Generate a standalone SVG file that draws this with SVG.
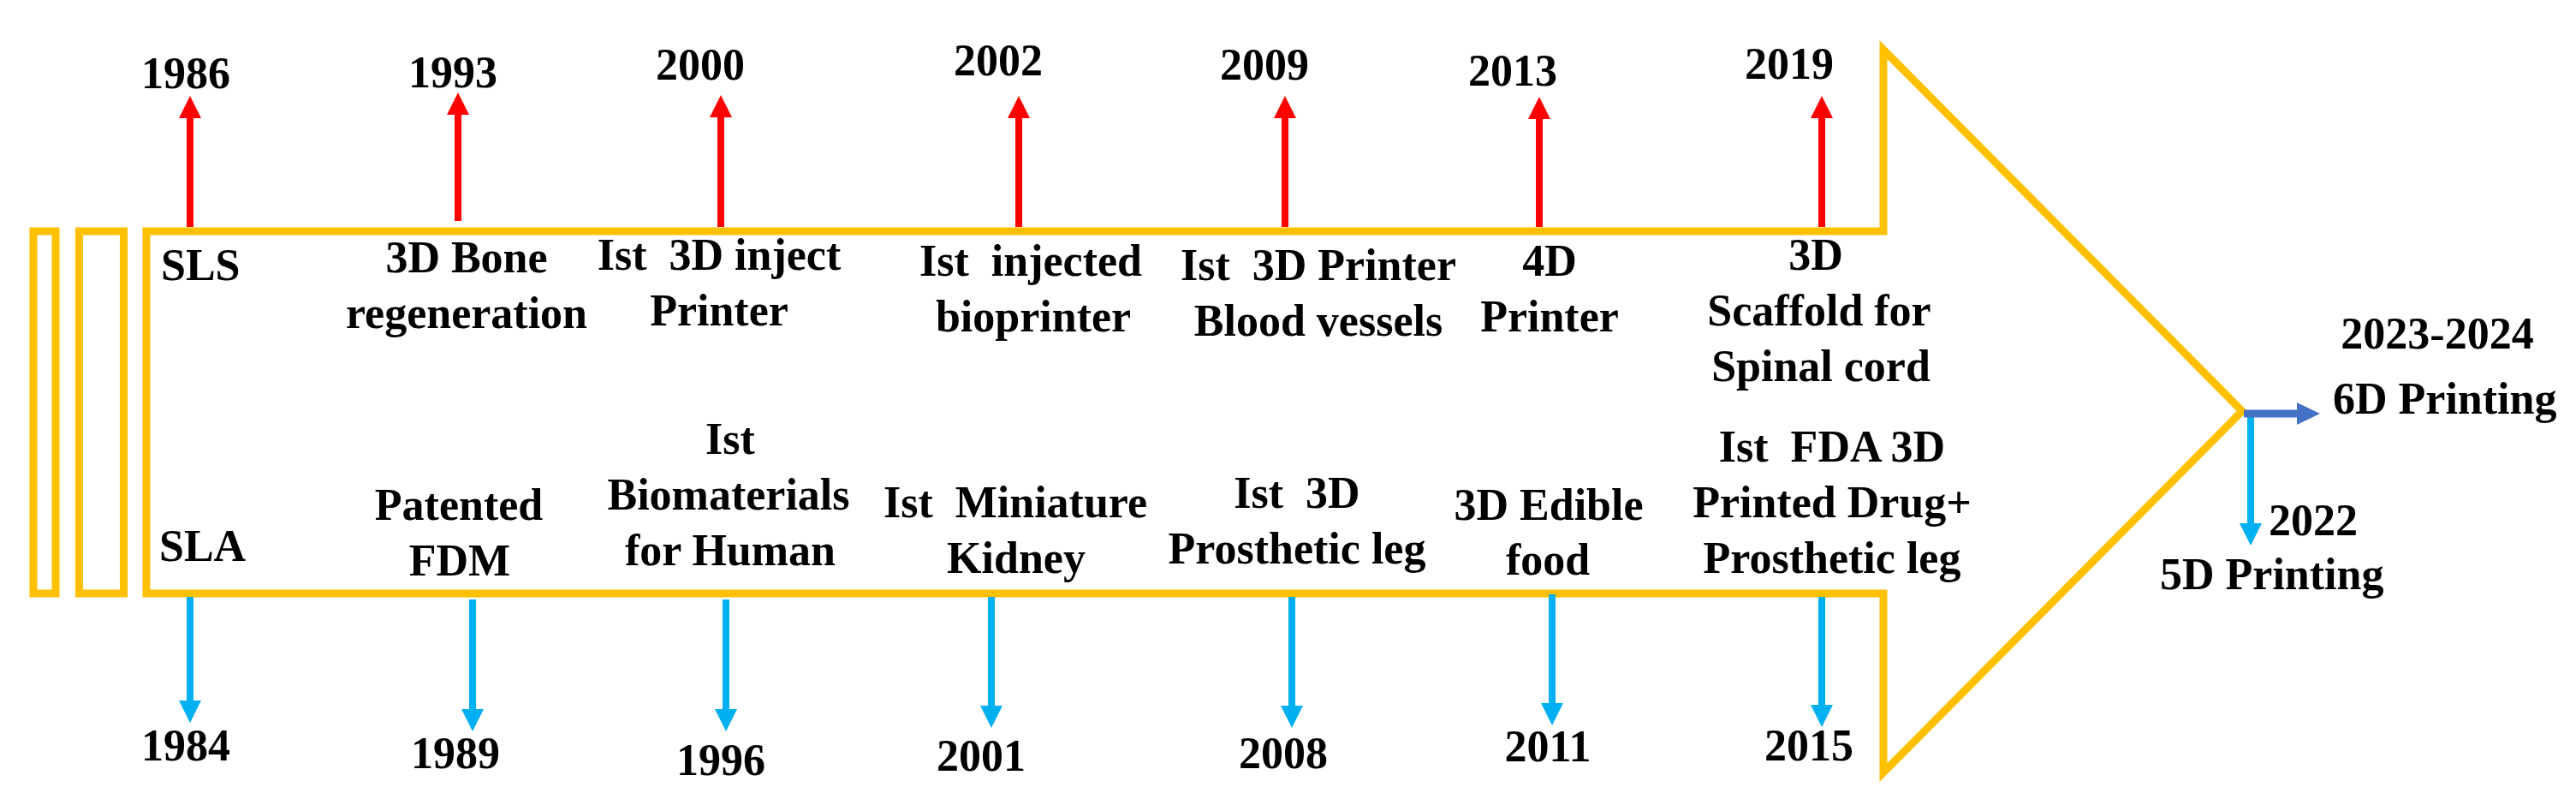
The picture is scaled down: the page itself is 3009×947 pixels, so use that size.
<svg xmlns="http://www.w3.org/2000/svg" width="3009" height="947" viewBox="0 0 3009 947">
<style>
text{font-family:'Liberation Serif','DejaVu Serif',serif;font-weight:700;font-size:52px;fill:#000;white-space:pre}
.m{text-anchor:middle}
.frame{fill:none;stroke:#FFC000;stroke-width:9}
.red{stroke:#FF0000;stroke-width:8;fill:none}
.lb{stroke:#00B0F0;stroke-width:8;fill:none}
.db{stroke:#4472C4;stroke-width:9;fill:none}
</style>
<defs>
<marker id="hr" markerUnits="userSpaceOnUse" markerWidth="26" markerHeight="26" refX="0" refY="13" orient="auto"><path d="M0,0 L26,13 L0,26 Z" fill="#FF0000"/></marker>
<marker id="hb" markerUnits="userSpaceOnUse" markerWidth="26" markerHeight="26" refX="0" refY="13" orient="auto"><path d="M0,0 L26,13 L0,26 Z" fill="#00B0F0"/></marker>
<marker id="hd" markerUnits="userSpaceOnUse" markerWidth="27" markerHeight="26" refX="0" refY="13" orient="auto"><path d="M0,0 L27,13 L0,26 Z" fill="#4472C4"/></marker>
</defs>
<rect width="3009" height="947" fill="#fff"/>
<g id="frame">
<rect class="frame" x="39" y="270" width="26" height="423" stroke-width="8"/>
<rect class="frame" x="92.5" y="270" width="52" height="423" stroke-width="8"/>
<path class="frame" d="M171,693 L171,270 L2200,270 L2200,58 L2619,480 L2200,902 L2200,693 Z"/>
</g>
<g id="connectors">
<line class="red" x1="222" y1="265" x2="222" y2="138" marker-end="url(#hr)"/>
<line class="red" x1="535" y1="258" x2="535" y2="134" marker-end="url(#hr)"/>
<line class="red" x1="842" y1="265" x2="842" y2="137" marker-end="url(#hr)"/>
<line class="red" x1="1190" y1="265" x2="1190" y2="138" marker-end="url(#hr)"/>
<line class="red" x1="1501" y1="265" x2="1501" y2="138" marker-end="url(#hr)"/>
<line class="red" x1="1798" y1="265" x2="1798" y2="139" marker-end="url(#hr)"/>
<line class="red" x1="2128" y1="265" x2="2128" y2="138" marker-end="url(#hr)"/>
<line class="lb" x1="222" y1="697" x2="222" y2="818" marker-end="url(#hb)"/>
<line class="lb" x1="552" y1="700" x2="552" y2="828" marker-end="url(#hb)"/>
<line class="lb" x1="848" y1="700" x2="848" y2="828" marker-end="url(#hb)"/>
<line class="lb" x1="1158" y1="697" x2="1158" y2="824" marker-end="url(#hb)"/>
<line class="lb" x1="1509" y1="697" x2="1509" y2="824" marker-end="url(#hb)"/>
<line class="lb" x1="1813" y1="694" x2="1813" y2="821" marker-end="url(#hb)"/>
<line class="lb" x1="2128" y1="697" x2="2128" y2="823" marker-end="url(#hb)"/>
<line class="lb" x1="2629" y1="479" x2="2629" y2="611" marker-end="url(#hb)"/>
<line class="db" x1="2621" y1="483" x2="2683" y2="483" marker-end="url(#hd)"/>
</g>
<g id="n1986"><text class="m" x="217" y="103">1986</text><text x="188" y="327">SLS</text></g>
<g id="n1993"><text class="m" x="529" y="102">1993</text><text class="m" x="545" y="318">3D Bone</text><text class="m" x="545" y="383">regeneration</text></g>
<g id="n2000"><text class="m" x="818" y="93">2000</text><text class="m" x="840" y="315">Ist  3D inject</text><text class="m" x="840" y="380">Printer</text></g>
<g id="n2002"><text class="m" x="1166" y="88">2002</text><text class="m" x="1204" y="322">Ist  injected</text><text class="m" x="1207" y="387">bioprinter</text></g>
<g id="n2009"><text class="m" x="1477" y="93">2009</text><text class="m" x="1540" y="327">Ist  3D Printer</text><text class="m" x="1540" y="392">Blood vessels</text></g>
<g id="n2013"><text class="m" x="1767" y="100">2013</text><text class="m" x="1810" y="322">4D</text><text class="m" x="1810" y="387">Printer</text></g>
<g id="n2019"><text class="m" x="2090" y="92">2019</text><text class="m" x="2121" y="315">3D</text><text class="m" x="2125" y="380">Scaffold for</text><text class="m" x="2127" y="445">Spinal cord</text></g>
<g id="n2023"><text class="m" x="2847" y="407">2023-2024</text><text x="2725" y="483">6D Printing</text></g>
<g id="n1984"><text x="186" y="655">SLA</text><text class="m" x="217" y="888">1984</text></g>
<g id="n1989"><text class="m" x="536" y="607">Patented</text><text class="m" x="537" y="672">FDM</text><text class="m" x="532" y="897">1989</text></g>
<g id="n1996"><text class="m" x="853" y="530">Ist</text><text class="m" x="851" y="595">Biomaterials</text><text class="m" x="853" y="660">for Human</text><text class="m" x="842" y="905">1996</text></g>
<g id="n2001"><text class="m" x="1186" y="604">Ist  Miniature</text><text class="m" x="1187" y="669">Kidney</text><text class="m" x="1146" y="900">2001</text></g>
<g id="n2008"><text class="m" x="1515" y="593">Ist  3D</text><text class="m" x="1515" y="658">Prosthetic leg</text><text class="m" x="1499" y="897">2008</text></g>
<g id="n2011"><text class="m" x="1809" y="607">3D Edible</text><text class="m" x="1808" y="671">food</text><text class="m" x="1808" y="889">2011</text></g>
<g id="n2015"><text class="m" x="2140" y="539">Ist  FDA 3D</text><text class="m" x="2140" y="604">Printed Drug+</text><text class="m" x="2140" y="669">Prosthetic leg</text><text class="m" x="2113" y="888">2015</text></g>
<g id="n2022"><text x="2650" y="625">2022</text><text x="2523" y="688">5D Printing</text></g>
</svg>
